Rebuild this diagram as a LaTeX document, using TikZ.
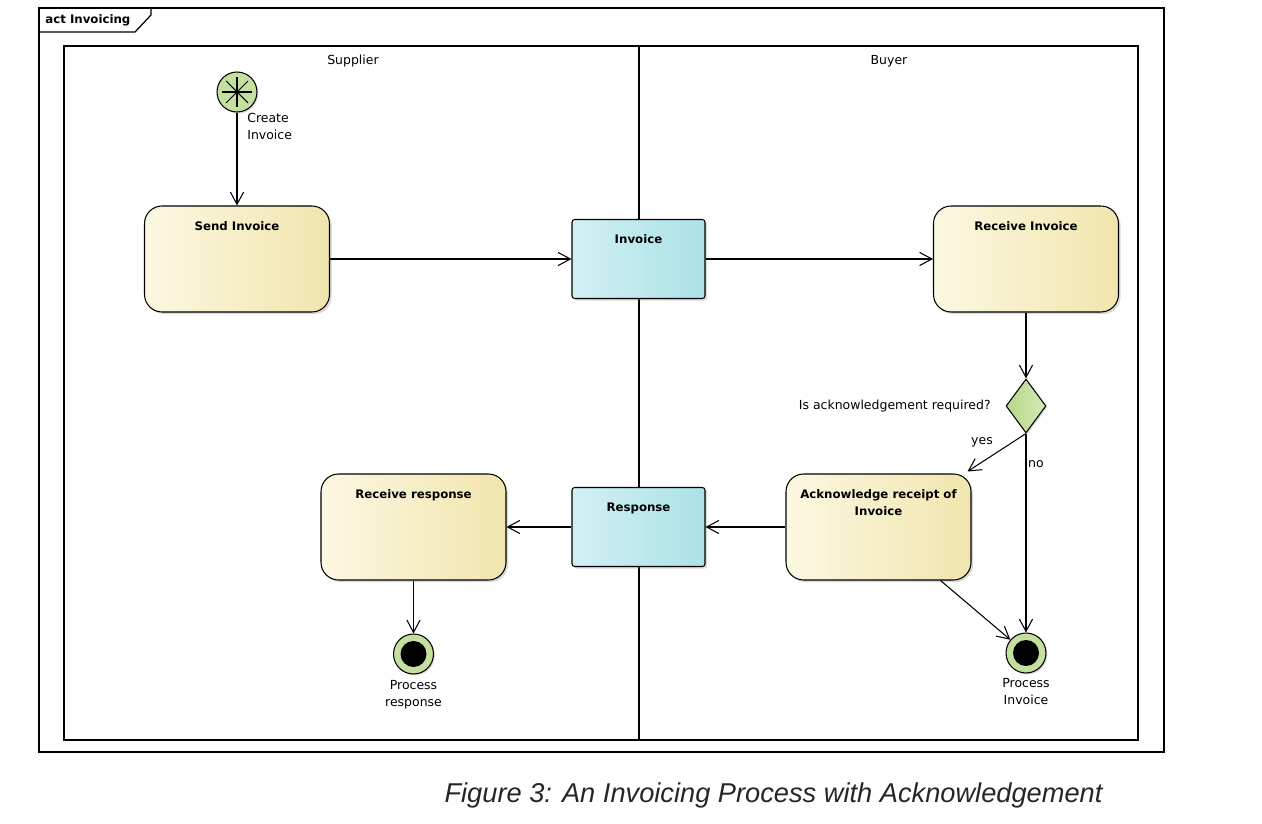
\documentclass[tikz,border=0pt]{standalone}
\usepackage{fontspec}
\setmainfont{DejaVu Sans}
\newfontfamily\capfont{Liberation Sans}
\usetikzlibrary{arrows.meta,shapes.geometric,shadows}

\definecolor{actleft}{HTML}{FCF8E3}
\definecolor{actright}{HTML}{F1E5AD}
\definecolor{objleft}{HTML}{D2F0F4}
\definecolor{objright}{HTML}{ABE2E7}
\definecolor{nodegreen}{HTML}{C4DF9E}
\definecolor{decleft}{HTML}{B8D689}
\definecolor{decright}{HTML}{D5E9B6}

\newcommand{\smallsans}{\fontsize{7.1}{9.6}\selectfont}
\newcommand{\boldsans}{\fontsize{6.7}{9.6}\selectfont\bfseries}

\tikzset{
	action/.style={draw, line width=0.6pt, rounded corners=10pt,
		minimum width=3.7cm, minimum height=2.12cm,
		left color=actleft, right color=actright,
		drop shadow={shadow xshift=1.2pt, shadow yshift=-1.2pt, opacity=0.3}},
	objbox/.style={draw, line width=0.6pt, rounded corners=1.5pt,
		minimum width=2.66cm, minimum height=1.58cm,
		left color=objleft, right color=objright,
		drop shadow={shadow xshift=1.2pt, shadow yshift=-1.2pt, opacity=0.3}},
	title/.style={anchor=north, inner sep=0pt, yshift=-0.31cm,
		font=\boldsans, align=center},
	txt/.style={inner sep=0pt, align=center},
	flow/.style={line width=0.6pt, -{Straight Barb[length=7pt, width=7.5pt]}},
}

\begin{document}
\begin{tikzpicture}[x=0.02cm, y=-0.02cm, font=\smallsans]
	\useasboundingbox (0,0) rectangle (1262,824);

	% frame and tab
	\draw[line width=0.7pt] (39,8) rectangle (1164,752);
	\draw[line width=0.7pt] (39,32) -- (135,32) -- (151,15) -- (151,8);
	\node[txt, anchor=west, font=\boldsans] (frame) at (45,20) {act Invoicing};

	% swimlanes
	\draw[line width=0.7pt] (64,46) rectangle (1138,740);
	\draw[line width=0.7pt] (639,46) -- (639,740);
	\node[txt] (supplier) at (353,61) {Supplier};
	\node[txt] (buyer) at (889,61) {Buyer};

	% start
	\node[circle, draw, line width=0.6pt, minimum size=0.8cm, inner sep=0pt,
		fill=nodegreen,
		drop shadow={shadow xshift=0.8pt, shadow yshift=-0.8pt, opacity=0.3}] (start) at (237,92) {};
	\foreach \a in {0,45,90,135}
		\draw[line width=0.6pt] ([shift={(\a:0.31cm)}]start.center) -- ([shift={(\a+180:0.31cm)}]start.center);
	\fill (start.center) circle [radius=0.05cm];
	\node[txt, align=left, anchor=north west] (create) at (247,113) {Create\\Invoice};

	% actions and objects
	\node[action, label={[title]north:Send Invoice}] (send) at (237,259) {};
	\node[objbox, label={[title]north:Invoice}] (invoice) at (638.5,259) {};
	\node[action, label={[title]north:Receive Invoice}] (recv) at (1026,259) {};

	\node[diamond, draw, line width=0.6pt, inner sep=0pt, minimum width=0.8cm,
		minimum height=1.08cm, left color=decleft, right color=decright,
		drop shadow={shadow xshift=0.8pt, shadow yshift=-0.8pt, opacity=0.3}] (dec) at (1026,406) {};
	\node[txt, anchor=east] (question) at (991,406) {Is acknowledgement required?};

	\node[action, label={[title]north:Acknowledge receipt of\\Invoice}] (ack) at (878.5,527) {};
	\node[objbox, label={[title]north:Response}] (resp) at (638.5,527) {};
	\node[action, label={[title]north:Receive response}] (rresp) at (413.5,527) {};

	% ends
	\node[circle, draw, line width=0.6pt, minimum size=0.8cm, inner sep=0pt,
		fill=nodegreen,
		drop shadow={shadow xshift=0.8pt, shadow yshift=-0.8pt, opacity=0.3}] (endr) at (413.5,654) {};
	\fill (endr.center) circle [radius=0.26cm];
	\node[txt, anchor=north] (procr) at (413.5,680) {Process\\response};

	\node[circle, draw, line width=0.6pt, minimum size=0.8cm, inner sep=0pt,
		fill=nodegreen,
		drop shadow={shadow xshift=0.8pt, shadow yshift=-0.8pt, opacity=0.3}] (endi) at (1026,653) {};
	\fill (endi.center) circle [radius=0.26cm];
	\node[txt, anchor=north] (proci) at (1026,678) {Process\\Invoice};

	% flows
	\draw[flow] (start) -- (send);
	\draw[flow] (send) -- (invoice);
	\draw[flow] (invoice) -- (recv);
	\draw[flow] (recv) -- (dec);
	\draw[flow] (dec.south) -- ([shift={(-4,-2)}]ack.north east);
	\node[txt] (yes) at (982,442) {yes};
	\draw[flow] (dec.south) -- (endi);
	\node[txt] (no) at (1036,464) {no};
	\draw[flow] ([shift={(-31,0)}]ack.south east) -- (endi);
	\draw[flow] (ack) -- (resp);
	\draw[flow] (resp) -- (rresp);
	\draw[flow] (rresp) -- (endr);

	% caption
	\node[txt, font=\capfont\itshape\fontsize{15.5}{18}\selectfont, text=black!85] (caption)
		at (773.5,795) {Figure 3: An Invoicing Process with Acknowledgement};
\end{tikzpicture}
\end{document}
